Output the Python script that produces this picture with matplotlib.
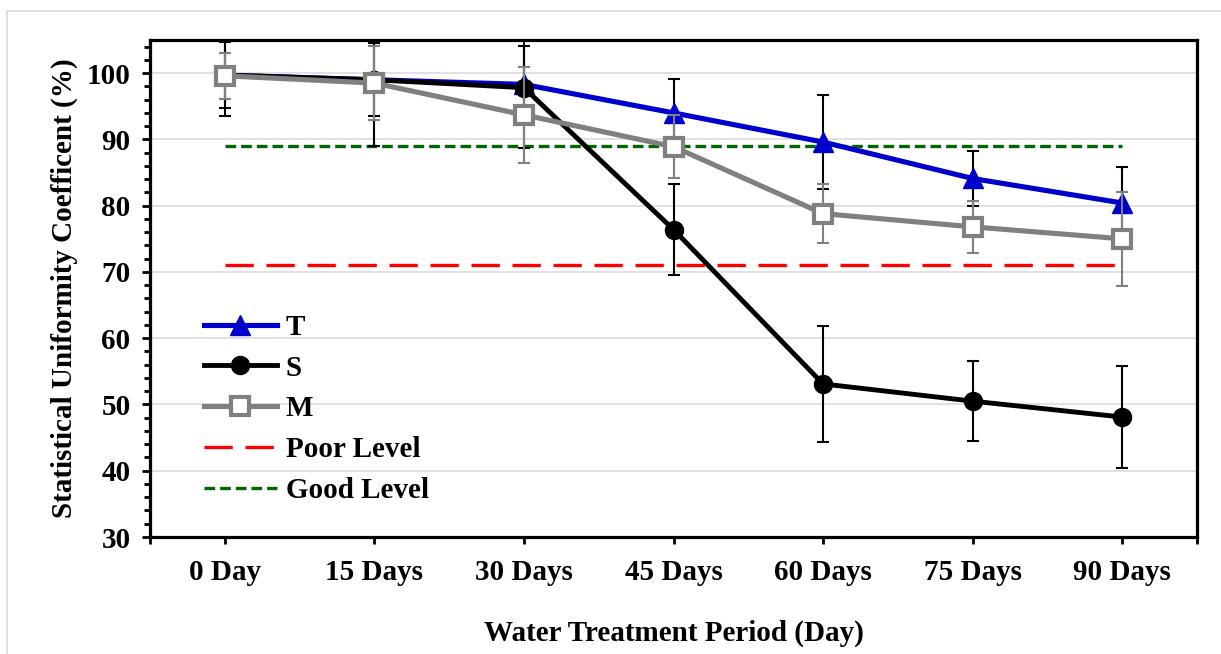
import numpy as np
import matplotlib
matplotlib.use('Agg')
from matplotlib import pyplot as plt
from matplotlib.lines import Line2D
from matplotlib.ticker import MultipleLocator, FixedLocator

plt.rcParams['font.family'] = ['Liberation Serif', 'DejaVu Serif']
plt.rcParams['font.weight'] = 'bold'

days = ['0 Day', '15 Days', '30 Days', '45 Days', '60 Days', '75 Days', '90 Days']

# mean uniformity coefficient per treatment
t_values = [99.7, 99.0, 98.3, 94.0, 89.6, 84.1, 80.4]
s_values = [99.7, 99.0, 97.8, 76.4, 53.1, 50.5, 48.1]
m_values = [99.6, 98.5, 93.7, 88.9, 78.8, 76.8, 75.0]

# error bar half widths
t_err = [5.0, 5.5, 5.8, 5.1, 7.1, 4.2, 5.4]
s_err = [6.2, 10.0, 9.1, 6.8, 8.8, 6.0, 7.7]
m_err = [3.5, 5.6, 7.3, 4.8, 4.4, 3.9, 7.1]

poor_level = 71
good_level = 89

x = np.arange(len(days))
fs = 21

fig = plt.figure(figsize=(12.21, 6.54), dpi=100)
ax = fig.add_axes([150 / 1221, 1 - 537 / 654, 1047 / 1221, 497 / 654])

# thin grey chart border (left + top)
fig.add_artist(Line2D([7.5 / 1221, 7.5 / 1221], [0, 1 - 10.5 / 654], transform=fig.transFigure, color='#d9d9d9', lw=1.2))
fig.add_artist(Line2D([7.5 / 1221, 1], [1 - 10.5 / 654, 1 - 10.5 / 654], transform=fig.transFigure, color='#d9d9d9', lw=1.2))

ax.set_xlim(-0.5, 6.5)
ax.set_ylim(30, 105)
ax.yaxis.set_major_locator(MultipleLocator(10))
ax.yaxis.set_minor_locator(MultipleLocator(2))
ax.set_yticks(np.arange(30, 101, 10))
ax.grid(axis='y', which='major', color='#d9d9d9', lw=1.1, zorder=0)
ax.set_axisbelow(True)

good_line, = ax.plot([x[0], x[-1]], [good_level] * 2, color='#006600', lw=2.4, dashes=(3.2, 1.5), zorder=1)
poor_line, = ax.plot([x[0], x[-1]], [poor_level] * 2, color='#ff0000', lw=2.4, dashes=(8.5, 3.8), zorder=1)

ax.errorbar(x, t_values, yerr=t_err, fmt='none', ecolor='black', elinewidth=1.5, capsize=4, capthick=1.5, zorder=2)
t_line, = ax.plot(x, t_values, color='#0000cc', lw=3.7, marker='^', ms=14, mfc='#0000cc', mec='#0000cc', zorder=3)

ax.errorbar(x, s_values, yerr=s_err, fmt='none', ecolor='black', elinewidth=1.5, capsize=4, capthick=1.5, zorder=4)
s_line, = ax.plot(x, s_values, color='black', lw=3.5, marker='o', ms=13, mfc='black', mec='black', zorder=5)

ax.errorbar(x, m_values, yerr=m_err, fmt='none', ecolor='#808080', elinewidth=1.5, capsize=4, capthick=1.5, zorder=6)
m_line, = ax.plot(x, m_values, color='#808080', lw=3.7, marker='s', ms=13.5, mfc='white', mec='#808080', mew=3, zorder=7)

for sp in ax.spines.values():
    sp.set_linewidth(2.3)
    sp.set_color('black')

ax.set_xticks(x)
ax.set_xticklabels(days)
ax.xaxis.set_minor_locator(FixedLocator([-0.5, 6.5]))
ax.tick_params(axis='x', which='both', direction='out', length=5, width=2, pad=11, labelsize=fs)
ax.tick_params(axis='y', which='major', direction='out', length=6, width=2, pad=8, labelsize=fs)
ax.tick_params(axis='y', which='minor', direction='out', length=4, width=2)

ax.set_xlabel('Water Treatment Period (Day)', fontsize=fs, fontweight='bold', labelpad=24)
ax.set_ylabel('Statistical Uniformity Coefficent (%)', fontsize=fs, fontweight='bold', labelpad=6)

ax.legend([t_line, s_line, m_line, poor_line, good_line], ['T', 'S', 'M', 'Poor Level', 'Good Level'],
          loc='upper left', bbox_to_anchor=(204 / 1221, 1 - 314 / 654), bbox_transform=fig.transFigure,
          frameon=False, numpoints=1, handlelength=2.5, handletextpad=0.3, labelspacing=0.47,
          borderpad=0, borderaxespad=0, prop={'size': fs, 'weight': 'bold'})

fig.savefig('out.png', dpi=100)
